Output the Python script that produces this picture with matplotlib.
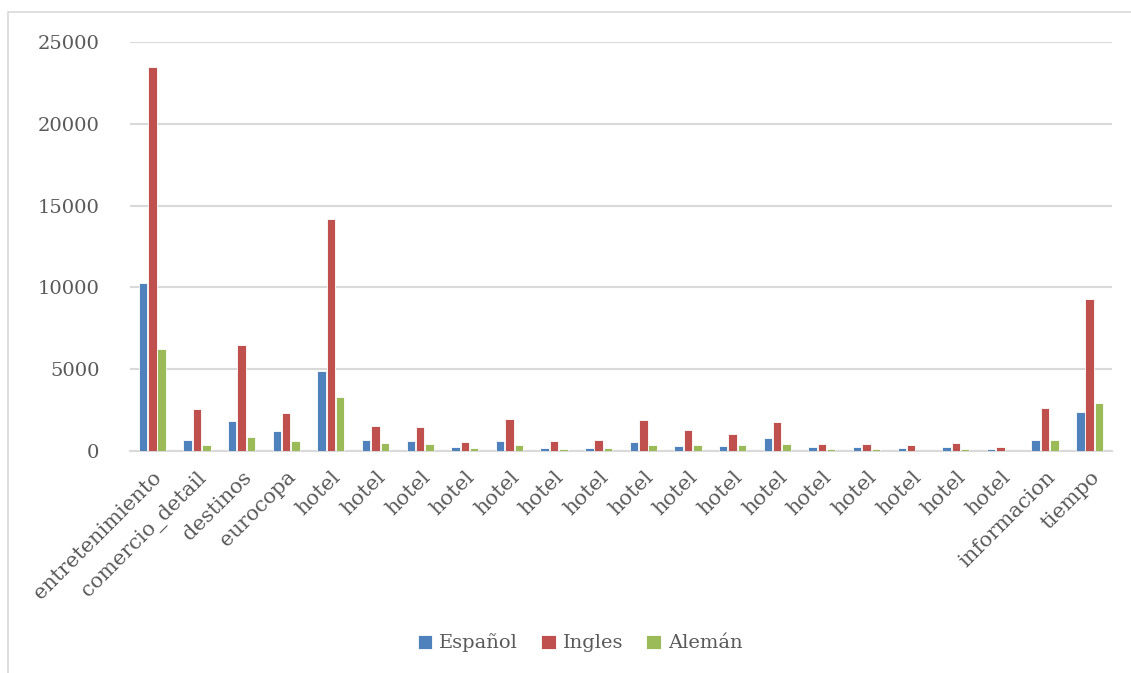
import matplotlib
matplotlib.use("Agg")
import matplotlib.pyplot as plt
import numpy as np
from matplotlib.patches import Rectangle

categories = ["entretenimiento", "comercio_detail", "destinos", "eurocopa"] + ["hotel"] * 16 + ["informacion", "tiempo"]
espanol = [10250, 670, 1850, 1240, 4880, 650, 590, 240, 590, 180, 180, 550, 320, 320, 790, 220, 220, 180, 220, 120, 670, 2380]
ingles = [23450, 2540, 6500, 2340, 14200, 1500, 1480, 530, 1930, 610, 690, 1870, 1280, 1040, 1770, 450, 430, 370, 470, 240, 2620, 9300]
aleman = [6250, 370, 830, 610, 3330, 490, 450, 180, 350, 120, 180, 350, 370, 350, 430, 100, 100, 0, 100, 0, 650, 2930]
series_names = ["Español", "Ingles", "Alemán"]
yticks = [0, 5000, 10000, 15000, 20000, 25000]

colors = ["#4F81BD", "#C0504D", "#9BBB59"]
text_color = "#595959"
grid_color = "#D9D9D9"
font = "DejaVu Serif"

W, H = 1131, 673
fig = plt.figure(figsize=(W / 100, H / 100), dpi=100)

# outer chart frame (cut off at right and bottom as in reference)
fig.patches.append(Rectangle((8 / W, -0.05), 1.2, 1 - 12 / H + 0.05, transform=fig.transFigure,
                             fill=False, edgecolor=grid_color, linewidth=1.2, zorder=0))

ax = fig.add_axes([130 / W, 1 - 451 / H, (1112 - 130) / W, (451 - 42) / H])
x = np.arange(len(categories))
bw = 0.19
offs = [-0.21, 0.0, 0.21]
for vals, c, o, name in zip([espanol, ingles, aleman], colors, offs, series_names):
    ax.bar(x + o, vals, width=bw, color=c, edgecolor="white", linewidth=0.6, label=name, zorder=3)

ax.set_xlim(-0.5, len(categories) - 0.5)
ax.set_ylim(0, 25000)
ax.set_yticks(yticks)
ax.set_yticklabels([str(v) for v in yticks], fontsize=14, family=font, color=text_color)
ax.yaxis.grid(True, color=grid_color, linewidth=1.5, zorder=0)
ax.set_axisbelow(True)
for s in ["top", "right", "left"]:
    ax.spines[s].set_visible(False)
ax.spines["bottom"].set_color(grid_color)
ax.spines["bottom"].set_linewidth(1.5)
ax.tick_params(axis="both", length=0)
ax.tick_params(axis="y", pad=22)
ax.set_xticks(x)
ax.set_xticklabels(categories, rotation=45, ha="right", rotation_mode="anchor",
                   fontsize=15, family=font, color=text_color)
ax.tick_params(axis="x", pad=12)

leg = fig.legend(loc="center", bbox_to_anchor=(580 / W, 1 - 643 / H), ncol=3, frameon=False,
                 prop={"family": font, "size": 14}, handlelength=0.75, handleheight=0.75,
                 handletextpad=0.35, columnspacing=1.2)
for t in leg.get_texts():
    t.set_color(text_color)

fig.savefig("out.png", dpi=100)
